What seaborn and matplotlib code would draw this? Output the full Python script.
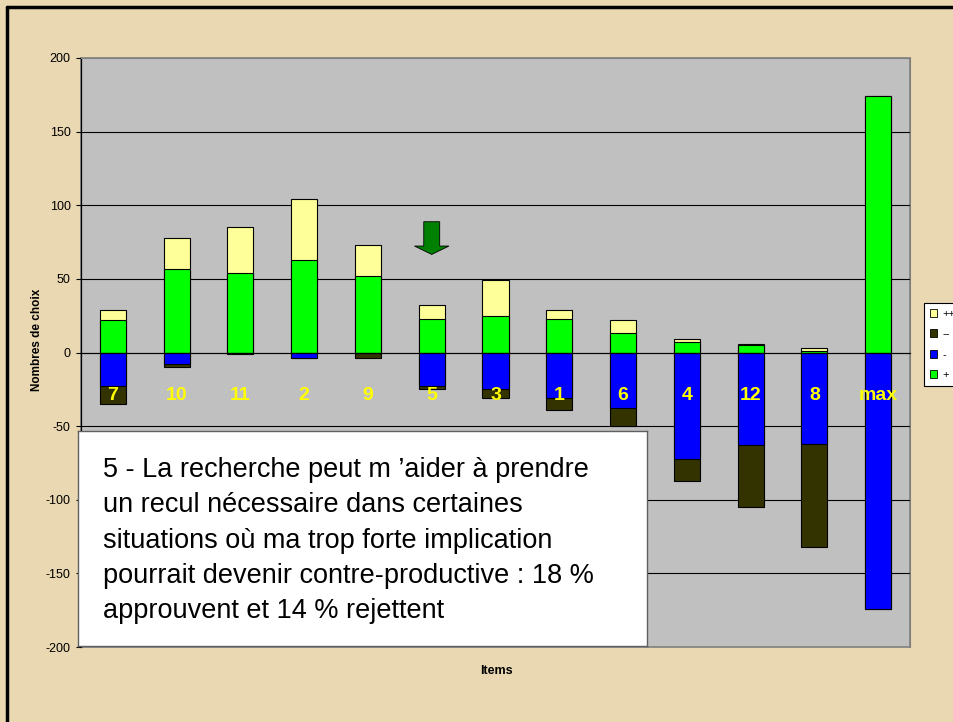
import matplotlib
matplotlib.use("Agg")
import matplotlib.pyplot as plt
from matplotlib.patches import Patch
from matplotlib.lines import Line2D
import numpy as np
import pandas as pd
import seaborn as sns

# donnees
items = ['7', '10', '11', '2', '9', '5', '3', '1', '6', '4', '12', '8', 'max']
plus = [22, 57, 54, 63, 52, 23, 25, 23, 13, 7, 5, 1, 174]
plusplus = [7, 21, 31, 41, 21, 9, 24, 6, 9, 2, 1, 2, 0]
minus = [23, 8, 0, 4, 0, 23, 25, 31, 38, 72, 63, 62, 174]
minusminus = [12, 2, 1, 0, 4, 2, 6, 8, 12, 15, 42, 70, 0]
yticks = [-200, -150, -100, -50, 0, 50, 100, 150, 200]

texte = ("5 - La recherche peut m \u2019aider \u00e0 prendre\n"
         "un recul n\u00e9cessaire dans certaines\n"
         "situations o\u00f9 ma trop forte implication\n"
         "pourrait devenir contre-productive : 18 %\n"
         "approuvent et 14 % rejettent")

c_pp = '#FFFF99'
c_mm = '#333300'
c_m = '#0000FF'
c_p = '#00FF00'
fond = '#EAD8B2'

sns.set_style('white')
plt.rcParams['font.family'] = ['Liberation Sans', 'DejaVu Sans']
plt.rcParams['text.color'] = 'black'
plt.rcParams['axes.labelcolor'] = 'black'
plt.rcParams['xtick.color'] = 'black'
plt.rcParams['ytick.color'] = 'black'

df = pd.DataFrame({'item': items, 'plus': plus, 'plusplus': plusplus,
                   'minus': minus, 'minusminus': minusminus})
df['haut'] = df['plus'] + df['plusplus']
df['bas'] = -(df['minus'] + df['minusminus'])
df['neg'] = -df['minus']

fig = plt.figure(figsize=(9.54, 7.22), dpi=100, facecolor=fond)
ax = fig.add_axes([81 / 954, 1 - 647 / 722, 829 / 954, 589 / 722])
ax.set_facecolor('#C0C0C0')

for col, c in [('haut', c_pp), ('plus', c_p), ('bas', c_mm), ('neg', c_m)]:
    sns.barplot(data=df, x='item', y=col, order=items, color=c, saturation=1,
                width=0.41, edgecolor='black', linewidth=0.8, errorbar=None, ax=ax)

ax.set_xlim(-0.5, len(items) - 0.5)
ax.set_ylim(-200, 200)
ax.set_yticks(yticks)
ax.set_yticklabels([str(v) for v in yticks], fontsize=9, color='black')
ax.set_xticks(np.arange(len(items) + 1) - 0.5)
ax.set_xticklabels([])
ax.tick_params(axis='x', direction='out', length=5, width=0.8, color='black')
ax.tick_params(axis='y', direction='out', length=3.5, width=0.8, color='black', pad=4, left=True)

ax.set_axisbelow(True)
ax.yaxis.grid(True, color='black', linewidth=0.8)
gl = ax.yaxis.get_gridlines()
gl[0].set_visible(False)
gl[-1].set_visible(False)

ax.spines['bottom'].set_position(('data', 0))
ax.spines['bottom'].set_color('black')
ax.spines['bottom'].set_linewidth(0.8)
ax.spines['left'].set_color('black')
ax.spines['left'].set_linewidth(0.9)
ax.spines['top'].set_color('#808080')
ax.spines['right'].set_color('#808080')
ax.patch.set_edgecolor('#808080')
ax.patch.set_linewidth(1.2)

ax.set_xlabel('')
ax.set_ylabel('')
fig.text(37 / 954, 1 - 340 / 722, 'Nombres de choix', rotation=90, fontsize=8.5,
         fontweight='bold', ha='center', va='center', color='black')
fig.text(496 / 954, 1 - 671 / 722, 'Items', fontsize=9, fontweight='bold',
         ha='center', va='center', color='black')

# numeros des items en jaune
for i, lab in enumerate(items):
    ax.text(i, -29, lab, color='#FFFF00', fontsize=14, fontweight='bold',
            ha='center', va='center', zorder=6)

# fleche au-dessus de l'item 5
i5 = items.index('5')
ax.arrow(i5, 88.8, 0, -22.2, width=0.25, head_width=0.54, head_length=5.7,
         length_includes_head=True, fc='#008000', ec='black', lw=0.6, zorder=5)

handles = [Patch(facecolor=c_pp, edgecolor='black', lw=0.6, label='++'),
           Patch(facecolor=c_mm, edgecolor='black', lw=0.6, label='--'),
           Patch(facecolor=c_m, edgecolor='black', lw=0.6, label='-'),
           Patch(facecolor=c_p, edgecolor='black', lw=0.6, label='+')]
leg = fig.legend(handles=handles, loc='upper left', bbox_to_anchor=(924 / 954, 1 - 303 / 722),
                 fontsize=8, frameon=True, fancybox=False, edgecolor='black',
                 facecolor='white', framealpha=1, handlelength=0.7, handleheight=0.7,
                 handletextpad=0.5, labelspacing=0.95, borderpad=0.5, borderaxespad=0)
leg.get_frame().set_linewidth(0.8)

# encadre de texte
box = fig.add_axes([78 / 954, 1 - 646 / 722, 569 / 954, 215 / 722])
box.set_facecolor('white')
box.set_xticks([])
box.set_yticks([])
for s in box.spines.values():
    s.set_color('#606060')
    s.set_linewidth(1)
box.text(25 / 569, 0.49, texte, transform=box.transAxes, fontsize=19.5,
         color='black', ha='left', va='center', linespacing=1.46)

# cadre noir du fond
fig.add_artist(Line2D([7 / 954, 7 / 954], [0, 1 - 7 / 722], color='black', lw=2.5,
                      transform=fig.transFigure))
fig.add_artist(Line2D([7 / 954, 1], [1 - 7 / 722, 1 - 7 / 722], color='black', lw=2.5,
                      transform=fig.transFigure))

fig.savefig('out.png', dpi=100, facecolor=fond)
